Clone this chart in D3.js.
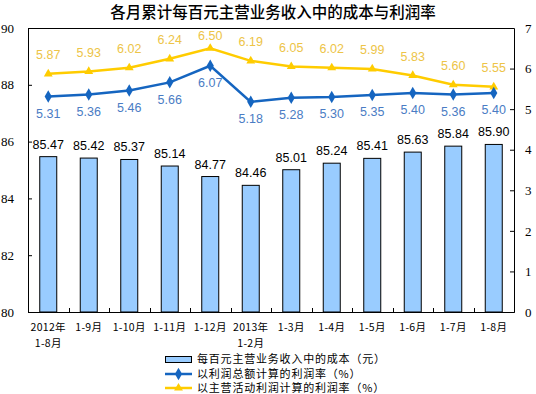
<!DOCTYPE html>
<html><head><meta charset="utf-8">
<script src="https://cdn.jsdelivr.net/npm/d3@7"></script>
<style>body{margin:0;background:#fff}svg{display:block}</style>
</head><body>
<svg id="c" width="536" height="394"></svg>
<script>
const categories = ["2012年\n1-8月","1-9月","1-10月","1-11月","1-12月","2013年\n1-2月","1-3月","1-4月","1-5月","1-6月","1-7月","1-8月"];
const costValues = [85.47,85.42,85.37,85.14,84.77,84.46,85.01,85.24,85.41,85.63,85.84,85.90];
const totalProfitRate = [5.31,5.36,5.46,5.66,6.07,5.18,5.28,5.30,5.35,5.40,5.36,5.40];
const mainProfitRate = [5.87,5.93,6.02,6.24,6.50,6.19,6.05,6.02,5.99,5.83,5.60,5.55];
const leftTicks = [80,82,84,86,88,90];
const rightTicks = [0,1,2,3,4,5,6,7];
const title = "各月累计每百元主营业务收入中的成本与利润率";
const legendLabels = ["每百元主营业务收入中的成本（元）","以利润总额计算的利润率（%）","以主营活动利润计算的利润率（%）"];

const svg = d3.select("#c");
const L=28,R=514,T=28,B=312;
const x = d3.scaleBand().domain(categories).range([L,R]);
const yL = d3.scaleLinear().domain([80,90]).range([B,T]);
const yR = d3.scaleLinear().domain([0,7]).range([B,T]);
const cjk = "'Noto Sans CJK SC','Noto Sans',sans-serif";
const serif = "'Liberation Serif','DejaVu Serif',serif";
const sans = "'Liberation Sans',Arial,sans-serif";
const blue="#1565C0", blueTxt="#4A7CC4", gold="#FFCC00", goldTxt="#EDC447";

svg.append("text").attr("x",273).attr("y",18).attr("text-anchor","middle")
  .style("font-family",cjk).style("font-size","15.5px").style("font-weight","500").text(title);

// bars
const bw = 17;
svg.append("g").selectAll("rect").data(costValues).join("rect")
  .attr("x",(d,i)=>x(categories[i])+x.bandwidth()/2-bw/2)
  .attr("y",d=>yL(d)).attr("width",bw).attr("height",d=>B-yL(d))
  .attr("fill","#99CCFF").attr("stroke","#000").attr("stroke-width",1);

// axes
const gl = svg.append("g").attr("transform",`translate(${L},0)`)
  .call(d3.axisRight(yL).tickValues(leftTicks).tickSize(4).tickFormat(d3.format("d")));
gl.select(".domain").attr("stroke","#000");
gl.selectAll(".tick text").attr("x",-27).attr("text-anchor","start").style("font-family",serif).style("font-size","13px").attr("fill","#000");

const gr = svg.append("g").attr("transform",`translate(${R},0)`)
  .call(d3.axisLeft(yR).tickValues(rightTicks).tickSize(4).tickFormat(d3.format("d")));
gr.selectAll(".tick text").attr("x",11).attr("text-anchor","start").style("font-family",serif).style("font-size","13px").attr("fill","#000");
gr.select(".domain").attr("stroke","#000");

// top border
svg.append("line").attr("x1",L).attr("x2",R).attr("y1",T+0.5).attr("y2",T+0.5).attr("stroke","#000");

// bottom axis
const gb = svg.append("g").attr("transform",`translate(0,${B})`)
  .call(d3.axisBottom(x).tickSize(0).tickFormat(""));
gb.select(".domain").attr("stroke","#000");
svg.append("g").selectAll("line").data(categories.slice(1)).join("line")
  .attr("x1",d=>Math.round(x(d))+0.5).attr("x2",d=>Math.round(x(d))+0.5)
  .attr("y1",B).attr("y2",B-4).attr("stroke","#000");
const catLines = [];
categories.forEach(c=>c.split("\n").forEach((p,i)=>catLines.push({c,p,i})));
svg.append("g").selectAll("text").data(catLines).join("text")
  .attr("x",d=>x(d.c)+x.bandwidth()/2).attr("y",d=>331+d.i*15.5).attr("text-anchor","middle")
  .style("font-family",cjk).style("font-size","10.5px").style("letter-spacing","0.3px").text(d=>d.p);

// bar labels
svg.append("g").selectAll("text").data(costValues).join("text")
  .attr("x",(d,i)=>x(categories[i])+x.bandwidth()/2).attr("y",d=>yL(d)-8)
  .attr("text-anchor","middle").style("font-family",sans).style("font-size","12.5px").attr("fill","#000")
  .text(d=>d.toFixed(2));

// lines
const cx = i=>x(categories[i])+x.bandwidth()/2;
const line = d3.line().x((d,i)=>cx(i)).y(d=>yR(d));
svg.append("path").datum(mainProfitRate).attr("d",line).attr("fill","none").attr("stroke",gold).attr("stroke-width",2.5);
svg.append("path").datum(totalProfitRate).attr("d",line).attr("fill","none").attr("stroke",blue).attr("stroke-width",2.5);
const tri = d3.symbol().type(d3.symbolTriangle).size(34);
svg.append("g").selectAll("path").data(mainProfitRate).join("path")
  .attr("d",tri).attr("transform",(d,i)=>`translate(${cx(i)},${yR(d)})`).attr("fill",gold);
const dia = d3.symbol().type(d3.symbolDiamond).size(45);
svg.append("g").selectAll("path").data(totalProfitRate).join("path")
  .attr("d",dia).attr("transform",(d,i)=>`translate(${cx(i)},${yR(d)})`).attr("fill",blue);

svg.append("g").selectAll("text").data(mainProfitRate).join("text")
  .attr("x",(d,i)=>cx(i)).attr("y",d=>Math.max(yR(d)-14.5, T+12)).attr("text-anchor","middle")
  .style("font-family",sans).style("font-size","12.5px").attr("fill",goldTxt).text(d=>d.toFixed(2));
svg.append("g").selectAll("text").data(totalProfitRate).join("text")
  .attr("x",(d,i)=>cx(i)).attr("y",d=>yR(d)+21.5).attr("text-anchor","middle")
  .style("font-family",sans).style("font-size","12.5px").attr("fill",blueTxt).text(d=>d.toFixed(2));

// legend
const lg = svg.append("g");
lg.append("rect").attr("x",165.5).attr("y",356.5).attr("width",26).attr("height",6).attr("fill","#99CCFF").attr("stroke","#000");
lg.append("line").attr("x1",165).attr("x2",192).attr("y1",374).attr("y2",374).attr("stroke",blue).attr("stroke-width",2.5);
lg.append("path").attr("d",dia).attr("transform","translate(178.5,374)").attr("fill",blue);
lg.append("line").attr("x1",165).attr("x2",192).attr("y1",388).attr("y2",388).attr("stroke",gold).attr("stroke-width",2.5);
lg.append("path").attr("d",tri).attr("transform","translate(178.5,388)").attr("fill",gold);
lg.selectAll("text").data(legendLabels).join("text")
  .attr("x",197).attr("y",(d,i)=>363+i*14.5)
  .style("font-family",cjk).style("font-size","11px").style("letter-spacing","0.8px").attr("fill","#000").text(d=>d);
</script>
</body></html>
